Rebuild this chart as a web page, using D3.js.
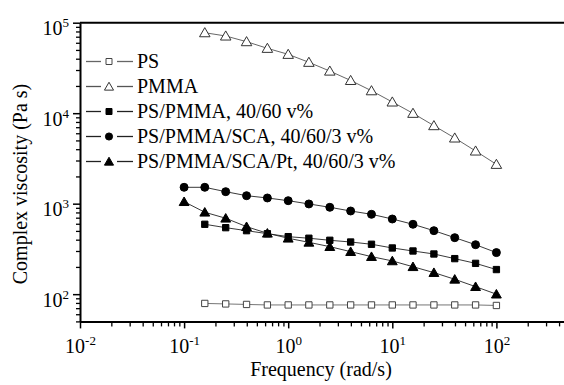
<!DOCTYPE html>
<head>
<meta charset="utf-8">
<style>
body { margin: 0; background: #fff; }
svg text { font-family: "Times New Roman", "Liberation Serif", "DejaVu Serif", serif; }
.axis path, .axis line { stroke: #000; }
.axis text { fill: #000; }
.series path.link { fill: none; stroke-width: 0.9; }
</style>
</head>
<body>
<svg width="564" height="385"></svg>
<script src="https://d3js.org/d3.v7.min.js"></script>
<script>
// frequency points (rad/s)
var freq16 = [0.1, 0.158, 0.251, 0.398, 0.631, 1, 1.58, 2.51, 3.98, 6.31, 10, 15.8, 25.1, 39.8, 63.1, 100];
var freq15 = [0.158, 0.251, 0.398, 0.631, 1, 1.58, 2.51, 3.98, 6.31, 10, 15.8, 25.1, 39.8, 63.1, 100];

// complex viscosity (Pa s)
var psVals    = [79, 78, 77, 76, 76, 76, 76, 76, 76, 76, 76, 76, 76, 76, 75];
var pmmaVals  = [77500, 71300, 61700, 52100, 44700, 36500, 29200, 23000, 17700, 13300, 9970, 7280, 5320, 3820, 2720];
var blendVals = [592, 543, 503, 466, 432, 415, 394, 377, 356, 324, 300, 278, 247, 219, 187];
var scaVals   = [1517, 1517, 1357, 1225, 1156, 1079, 993, 912, 830, 763, 677, 592, 503, 421, 352, 288];
var ptVals    = [1052, 804, 690, 557, 471, 415, 374, 335, 295, 260, 233, 201, 173, 146, 121, 100];

var legendNames = ["PS", "PMMA", "PS/PMMA, 40/60 v%", "PS/PMMA/SCA, 40/60/3 v%", "PS/PMMA/SCA/Pt, 40/60/3 v%"];

var xMajor = [0.01, 0.1, 1, 10, 100];
var yMajor = [100, 1000, 10000, 100000];

var series = [
  {name: legendNames[0], x: freq15, y: psVals,    sym: "square",   fill: "#fff", stroke: "#444", line: "#666"},
  {name: legendNames[1], x: freq15, y: pmmaVals,  sym: "triangle", fill: "#fff", stroke: "#333", line: "#555"},
  {name: legendNames[2], x: freq15, y: blendVals, sym: "square",   fill: "#000", stroke: "#000", line: "#222"},
  {name: legendNames[3], x: freq16, y: scaVals,   sym: "circle",   fill: "#000", stroke: "#000", line: "#222"},
  {name: legendNames[4], x: freq16, y: ptVals,    sym: "triangle", fill: "#000", stroke: "#000", line: "#222"}
];

var FONT = "'Times New Roman', 'Liberation Serif', 'DejaVu Serif', serif";

var svg = d3.select("svg");

var x = d3.scaleLog().domain([0.01, 1000]).range([80, 600.5]);
var y = d3.scaleLog().domain([50, 100000]).range([321.4, 22.7]);

// minor tick values
function minors(lo, hi) {
  var out = [];
  for (var d = lo; d < hi; d *= 10)
    for (var k = 2; k <= 9; k++) out.push(d * k);
  return out;
}
var xMinor = minors(0.01, 1000);
var yMinor = minors(10, 100000).filter(function(v) { return v >= 50; });

function supLabel(sel) {
  sel.each(function(d) {
    var t = d3.select(this).text("").attr("font-family", FONT);
    var e = Math.round(Math.log10(d));
    t.append("tspan").text("10");
    t.append("tspan").attr("font-size", 13).attr("dy", -8).text(e);
  });
}

// top frame line
svg.append("line")
  .attr("x1", 80).attr("x2", 564)
  .attr("y1", y(100000)).attr("y2", y(100000))
  .attr("stroke", "#000").attr("stroke-width", 2);

// x axis
var gx = svg.append("g").attr("class", "axis")
  .attr("transform", "translate(0," + y.range()[0] + ")");
gx.call(d3.axisBottom(x).tickValues(xMinor).tickSize(5).tickFormat(""))
  .call(function(g) { g.select(".domain").remove(); })
  .selectAll("line").attr("stroke-width", 1.3);
var gxM = svg.append("g").attr("class", "axis")
  .attr("transform", "translate(0," + y.range()[0] + ")");
gxM.call(d3.axisBottom(x).tickValues(xMajor).tickSize(7).tickSizeOuter(0).tickPadding(14));
gxM.select(".domain").attr("stroke-width", 2);
gxM.selectAll(".tick line").attr("stroke-width", 1.5);
gxM.selectAll(".tick text").attr("font-size", 20).attr("dy", "0.55em").call(supLabel);

// y axis
var gy = svg.append("g").attr("class", "axis").attr("transform", "translate(80,0)");
gy.call(d3.axisLeft(y).tickValues(yMinor).tickSize(4).tickFormat(""))
  .call(function(g) { g.select(".domain").remove(); })
  .selectAll("line").attr("stroke-width", 1.3);
var gyM = svg.append("g").attr("class", "axis").attr("transform", "translate(80,0)");
gyM.call(d3.axisLeft(y).tickValues(yMajor).tickSize(7).tickSizeOuter(0).tickPadding(4));
gyM.select(".domain").attr("stroke-width", 2);
gyM.selectAll(".tick line").attr("stroke-width", 1.5);
gyM.selectAll(".tick text").attr("font-size", 20).attr("dy", "0.6em").call(supLabel);

// axis titles
svg.append("text")
  .attr("x", 321).attr("y", 376)
  .attr("text-anchor", "middle").attr("font-size", 20).attr("font-family", FONT)
  .text("Frequency (rad/s)");
svg.append("text")
  .attr("transform", "translate(27,184) rotate(-90)")
  .attr("text-anchor", "middle").attr("font-size", 20).attr("font-family", FONT)
  .text("Complex viscosity (Pa s)");

var symType = {square: d3.symbolSquare, triangle: d3.symbolTriangle, circle: d3.symbolCircle};
var symSize = {square: 40, triangle: 42, circle: 50};

var line = d3.line().x(function(d) { return x(d[0]); }).y(function(d) { return y(d[1]); });

series.forEach(function(s) {
  var pts = s.x.map(function(f, i) { return [f, s.y[i]]; });
  var g = svg.append("g").attr("class", "series");
  g.append("path").attr("class", "link").datum(pts)
    .attr("d", line).attr("stroke", s.line);
  var sz = s.sym === "triangle" && s.fill === "#fff" ? 48 : symSize[s.sym];
  g.selectAll("path.pt").data(pts).enter().append("path")
    .attr("class", "pt")
    .attr("d", d3.symbol().type(symType[s.sym]).size(sz))
    .attr("transform", function(d) { return "translate(" + x(d[0]) + "," + (y(d[1]) + (s.sym === "triangle" ? 1 : 0)) + ")"; })
    .attr("fill", s.fill).attr("stroke", s.stroke).attr("stroke-width", 1);
});

// legend
var leg = svg.append("g").selectAll("g").data(series).enter().append("g")
  .attr("transform", function(d, i) { return "translate(0," + (61.5 + i * 25) + ")"; });
leg.append("line").attr("x1", 86).attr("x2", 101).attr("y1", 0).attr("y2", 0)
  .attr("stroke", function(d) { return d.line; }).attr("stroke-width", 1.3);
leg.append("line").attr("x1", 117).attr("x2", 133).attr("y1", 0).attr("y2", 0)
  .attr("stroke", function(d) { return d.line; }).attr("stroke-width", 1.3);
leg.append("path")
  .attr("d", function(d) { return d3.symbol().type(symType[d.sym]).size(d.sym === "circle" ? 40 : 36)(); })
  .attr("transform", function(d) { return "translate(109," + (d.sym === "triangle" ? 1 : 0) + ")"; })
  .attr("fill", function(d) { return d.fill; })
  .attr("stroke", function(d) { return d.stroke; }).attr("stroke-width", 1);
leg.append("text").attr("x", 137).attr("y", 6.5).attr("font-size", 20).attr("font-family", FONT)
  .text(function(d) { return d.name; });
</script>
</body>
